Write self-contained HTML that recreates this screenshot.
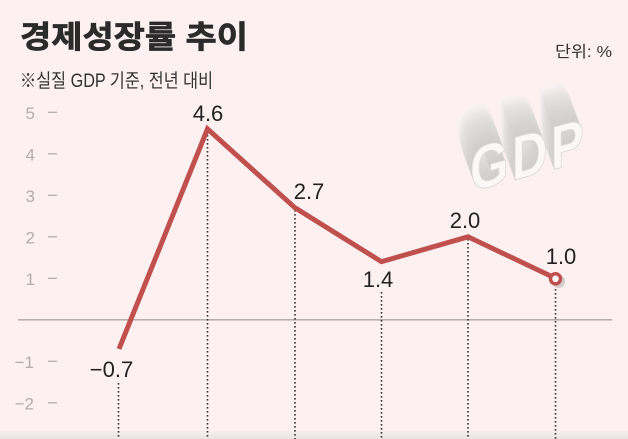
<!DOCTYPE html>
<html><head><meta charset="utf-8"><style>
html,body{margin:0;padding:0;background:#fcf1f0;}
svg{display:block;}
</style></head><body>
<svg width="628" height="439" viewBox="0 0 628 439" xmlns="http://www.w3.org/2000/svg">
<defs>
<linearGradient id="bot" x1="0" y1="0" x2="0" y2="1">
<stop offset="0" stop-color="#f6eeed"/><stop offset="1" stop-color="#ebe4e3"/>
</linearGradient>
</defs>
<rect x="0" y="0" width="628" height="439" fill="#fcf1f0"/>
<rect x="0" y="431" width="628" height="8" fill="url(#bot)"/>

<!-- Title -->
<text x="20" y="48" font-family="'Liberation Sans','Noto Sans CJK KR',sans-serif" font-weight="bold" font-size="31" fill="#2b2b2b" stroke="#2b2b2b" stroke-width="0.7" textLength="228" lengthAdjust="spacingAndGlyphs">경제성장률 추이</text>
<text x="20" y="87" font-family="'Liberation Sans','Noto Sans CJK KR',sans-serif" font-size="19" fill="#333" textLength="193" lengthAdjust="spacingAndGlyphs">※실질 GDP 기준, 전년 대비</text>
<text x="555" y="57" font-family="'Liberation Sans','Noto Sans CJK KR',sans-serif" font-size="16" fill="#333" textLength="57" lengthAdjust="spacingAndGlyphs">단위: %</text>

<!-- GDP logo -->
<g transform="translate(470,192) skewY(-15)">
<g transform="scale(0.8,1)" font-family="'Liberation Sans',sans-serif" font-weight="bold" font-size="62" letter-spacing="4">
<text x="-18" y="-42" fill="#f8f1f1">GDP</text>
<text x="-17.2" y="-40.2" fill="#f6efef">GDP</text>
<text x="-16.5" y="-38.4" fill="#f3ecec">GDP</text>
<text x="-15.7" y="-36.6" fill="#f0eaea">GDP</text>
<text x="-15" y="-34.8" fill="#ede7e7">GDP</text>
<text x="-14.2" y="-33" fill="#eae5e5">GDP</text>
<text x="-13.5" y="-31.2" fill="#e8e3e3">GDP</text>
<text x="-12.7" y="-29.4" fill="#e6e1e1">GDP</text>
<text x="-12" y="-27.6" fill="#e4dfdf">GDP</text>
<text x="-11.2" y="-25.8" fill="#e2dede">GDP</text>
<text x="-10.5" y="-24" fill="#e0dcdc">GDP</text>
<text x="-9.7" y="-22.2" fill="#dfdbdb">GDP</text>
<text x="-9" y="-20.4" fill="#ddd9d9">GDP</text>
<text x="-8.2" y="-18.6" fill="#dcd8d8">GDP</text>
<text x="-7.5" y="-16.8" fill="#dad7d7">GDP</text>
<text x="-6.7" y="-15" fill="#d9d5d5">GDP</text>
<text x="-6" y="-13.2" fill="#d8d4d4">GDP</text>
<text x="-5.2" y="-11.4" fill="#d7d3d3">GDP</text>
<text x="-4.5" y="-9.6" fill="#d6d2d2">GDP</text>
<text x="-3.7" y="-7.8" fill="#d5d1d1">GDP</text>
<text x="-3" y="-6" fill="#d4d0d0">GDP</text>
<text x="-2.2" y="-4.2" fill="#d3cfcf">GDP</text>
<text x="-1.5" y="-2.6" fill="#d2cece">GDP</text>
<text x="-0.7" y="-1" fill="#d1cdcd">GDP</text>
<text x="0" y="0" fill="#fcf8f8" stroke="#dedada" stroke-width="1">GDP</text>
</g>
</g>

<!-- Y axis ticks -->
<g stroke="#b3adac" stroke-width="1.3">
<line x1="48" y1="112.3" x2="57" y2="112.3"/>
<line x1="48" y1="153.8" x2="57" y2="153.8"/>
<line x1="48" y1="195.3" x2="57" y2="195.3"/>
<line x1="48" y1="236.8" x2="57" y2="236.8"/>
<line x1="48" y1="278.3" x2="57" y2="278.3"/>
<line x1="48" y1="361.3" x2="57" y2="361.3"/>
<line x1="48" y1="402.8" x2="57" y2="402.8"/>
</g>
<g font-family="'Liberation Sans',sans-serif" font-size="17" fill="#b2acab" text-anchor="end">
<text x="35" y="119">5</text>
<text x="35" y="160.5">4</text>
<text x="35" y="202">3</text>
<text x="35" y="243.5">2</text>
<text x="35" y="285">1</text>
<text x="34" y="368">−1</text>
<text x="34" y="409.5">−2</text>
</g>

<!-- zero line -->
<line x1="18" y1="319.8" x2="612" y2="319.8" stroke="#aaa5a4" stroke-width="1.4"/>

<!-- dotted drop lines -->
<g stroke="#333" stroke-width="1.6" stroke-dasharray="1.6 2.4">
<line x1="118.5" y1="383" x2="118.5" y2="439"/>
<line x1="207.5" y1="131" x2="207.5" y2="439"/>
<line x1="295" y1="210" x2="295" y2="439"/>
<line x1="381.5" y1="292" x2="381.5" y2="439"/>
<line x1="468" y1="239" x2="468" y2="439"/>
<line x1="555.5" y1="289" x2="555.5" y2="439"/>
</g>

<!-- data line -->
<polyline points="119,348.9 207.5,128.9 295,207.8 381.5,261.7 468,236.8 555.5,278.3" fill="none" stroke="#c0504e" stroke-width="5" stroke-linejoin="miter" stroke-linecap="butt"/>
<circle cx="558.5" cy="281.5" r="6.5" fill="#d3cdcc"/>
<circle cx="555.5" cy="278.8" r="5" fill="#ffffff" stroke="#c0504e" stroke-width="3.5"/>

<!-- data labels -->
<g font-family="'Liberation Sans',sans-serif" font-size="22" fill="#222" text-anchor="middle">
<text x="208" y="121">4.6</text>
<text x="309" y="199">2.7</text>
<text x="378" y="287">1.4</text>
<text x="465" y="228">2.0</text>
<text x="561" y="264">1.0</text>
<text x="111.5" y="377">−0.7</text>
</g>
</svg>
</body></html>
